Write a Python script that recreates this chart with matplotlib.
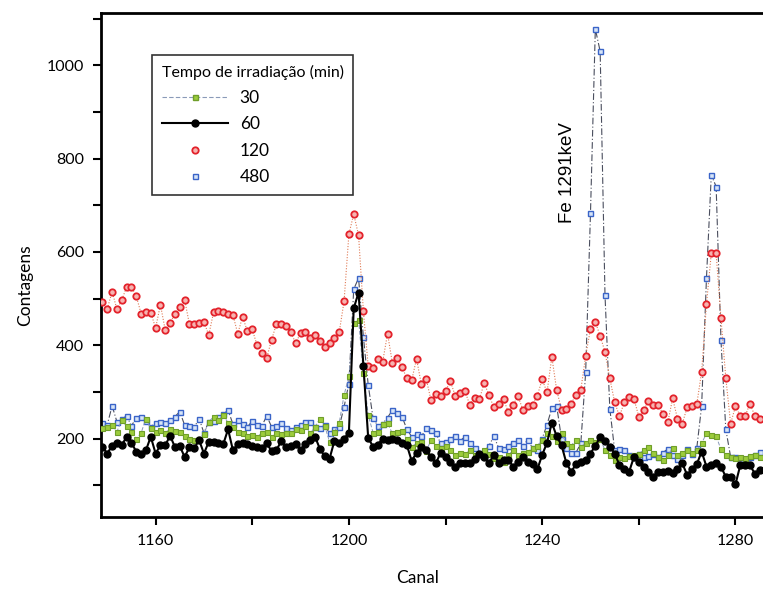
import matplotlib
matplotlib.use("Agg")
import matplotlib.pyplot as plt
from matplotlib.lines import Line2D
from matplotlib.ticker import MultipleLocator
import numpy as np

plt.rcParams['font.family'] = ['Lato', 'DejaVu Sans']

# ---------------- data (counts per channel) ----------------
start_30 = 1149
counts_30 = [223, 225, 229, 215, 240, 226, 215, 200, 212, 243, 222, 215, 218, 213, 220, 216, 215, 205, 200, 197,
             200, 210, 236, 247, 240, 250, 234, 225, 215, 211, 205, 208, 204, 212, 215, 204, 211, 210, 212, 212,
             220, 218, 227, 211, 225, 243, 227, 193, 215, 234, 293, 334, 447, 455, 340, 250, 213, 215, 231, 233,
             211, 215, 217, 200, 183, 190, 193, 174, 196, 185, 179, 185, 175, 165, 170, 168, 175, 165, 170, 175,
             168, 158, 160, 150, 165, 175, 165, 170, 172, 179, 185, 197, 211, 205, 195, 211, 190, 185, 197, 183,
             190, 198, 192, 200, 175, 165, 154, 160, 158, 163, 165, 168, 175, 183, 170, 160, 154, 165, 179, 165,
             170, 175, 170, 175, 190, 211, 208, 205, 177, 165, 161, 158, 160, 158, 162, 165, 160]

start_60 = 1149
counts_60 = [182, 168, 185, 190, 186, 204, 191, 172, 166, 175, 204, 168, 186, 186, 206, 182, 184, 161, 181, 179,
             197, 168, 193, 193, 190, 188, 220, 175, 188, 191, 188, 185, 182, 179, 190, 173, 175, 195, 182, 185,
             188, 175, 188, 197, 204, 178, 162, 157, 195, 190, 200, 212, 479, 513, 356, 201, 183, 187, 200, 198,
             200, 198, 190, 186, 152, 170, 181, 175, 161, 147, 170, 160, 150, 139, 148, 147, 148, 156, 168, 160,
             148, 165, 148, 154, 154, 140, 150, 160, 150, 145, 134, 165, 191, 234, 205, 186, 148, 129, 145, 150,
             154, 168, 185, 203, 195, 183, 168, 143, 135, 129, 161, 150, 140, 128, 118, 129, 129, 130, 127, 135,
             147, 122, 135, 145, 172, 140, 143, 148, 140, 118, 118, 102, 143, 143, 143, 125, 133]

start_120 = 1149
counts_120 = [492, 478, 515, 477, 497, 525, 525, 505, 468, 472, 470, 437, 487, 432, 448, 467, 482, 498, 445, 445,
              448, 450, 422, 471, 473, 471, 467, 465, 425, 461, 430, 434, 400, 384, 373, 412, 445, 445, 441, 428,
              404, 427, 428, 415, 423, 410, 396, 405, 416, 428, 494, 638, 681, 636, 473, 355, 352, 371, 365, 425,
              362, 373, 353, 329, 325, 371, 316, 328, 282, 296, 291, 302, 323, 292, 298, 302, 273, 287, 284, 319,
              293, 267, 274, 284, 257, 273, 291, 262, 269, 273, 292, 327, 299, 375, 304, 262, 264, 275, 294, 305,
              377, 435, 450, 420, 386, 329, 278, 248, 278, 289, 285, 247, 261, 280, 273, 272, 253, 235, 286, 243,
              232, 267, 269, 274, 343, 488, 597, 597, 458, 330, 232, 269, 249, 248, 275, 249, 241]

start_480 = 1149
counts_480 = [233, 230, 270, 236, 241, 249, 227, 245, 247, 238, 225, 234, 236, 233, 240, 247, 258, 229, 227, 224,
              243, 212, 236, 238, 247, 252, 261, 231, 240, 232, 225, 238, 230, 227, 249, 225, 228, 233, 222, 218,
              225, 229, 236, 236, 225, 222, 229, 211, 220, 225, 268, 318, 520, 544, 418, 315, 244, 227, 232, 245,
              261, 254, 247, 220, 204, 209, 205, 222, 218, 211, 190, 193, 200, 205, 195, 204, 190, 180, 168, 172,
              185, 205, 180, 178, 185, 190, 197, 185, 197, 180, 175, 200, 230, 265, 270, 200, 180, 170, 170, 190,
              342, 684, 1078, 1030, 508, 264, 175, 178, 176, 165, 161, 167, 161, 163, 168, 160, 170, 178, 165, 157,
              165, 178, 167, 180, 270, 544, 765, 740, 411, 220, 161, 161, 157, 157, 161, 165, 172]

series_labels = ['30', '60', '120', '480']
legend_title = 'Tempo de irradiação (min)'
x_label = 'Canal'
y_label = 'Contagens'
annotation = 'Fe 1291keV'
annotation_x = 1245.2
annotation_y = 770

x_ticks = [1160, 1200, 1240, 1280]
y_ticks = [200, 400, 600, 800, 1000]

ch30 = np.arange(start_30, start_30 + len(counts_30))
ch60 = np.arange(start_60, start_60 + len(counts_60))
ch120 = np.arange(start_120, start_120 + len(counts_120))
ch480 = np.arange(start_480, start_480 + len(counts_480))

# ---------------- figure ----------------
W, H = 763, 589
fig = plt.figure(figsize=(W / 100, H / 100), dpi=100)
ax = fig.add_axes([101 / W, 1 - 517 / H, (W - 101) / W, 504 / H])

red_e = '#e3222b'
red_f = '#f6b3b0'
blue_e = '#3a64c8'
blue_f = '#d6e4f7'
green_f = '#9ccc3c'
green_e = '#6f9e2a'

ax.plot(ch480, counts_480, ls=(0, (6, 2, 1, 2)), color='#4a4e5e', lw=0.8, marker='s', ms=3.6,
        mfc=blue_f, mec=blue_e, mew=1.0, zorder=2)
ax.plot(ch30, counts_30, ls=(0, (4, 2)), color='#8a9ab8', lw=0.7, marker='s', ms=3.6,
        mfc=green_f, mec=green_e, mew=0.8, zorder=3)
ax.plot(ch120, counts_120, ls=(0, (1, 1.5)), color='#e07a55', lw=0.8, marker='o', ms=4.6,
        mfc=red_f, mec=red_e, mew=1.3, zorder=4)
ax.plot(ch60, counts_60, ls='-', color='black', lw=1.5, marker='o', ms=5.0,
        mfc='black', mec='black', zorder=5)

ax.set_xlim(1148.7, 1285.7)
ax.set_ylim(32, 1112)
ax.set_xticks(x_ticks)
ax.set_yticks(y_ticks)
ax.xaxis.set_minor_locator(MultipleLocator(20))
ax.yaxis.set_minor_locator(MultipleLocator(100))
ax.tick_params(axis='both', which='both', direction='out', width=1.5, length=6,
               top=False, right=False, labelsize=11.5, pad=6)
for s in ['left', 'bottom', 'top']:
    ax.spines[s].set_linewidth(2.0)
ax.spines['right'].set_visible(False)

fig.text(418 / W, 1 - 578 / H, x_label, ha='center', va='center', fontsize=12.5)
fig.text(25 / W, 1 - 285 / H, y_label, ha='center', va='center', rotation=90, fontsize=12.5)

ax.text(annotation_x, annotation_y, annotation, rotation=90, ha='center', va='center',
        fontsize=13.5, family=['Liberation Sans', 'DejaVu Sans'])

handles = [
    Line2D([], [], ls=(0, (4, 2)), color='#8a9ab8', lw=0.8, marker='s', ms=3.6,
           mfc=green_f, mec=green_e),
    Line2D([], [], ls='-', color='black', lw=1.5, marker='o', ms=5, mfc='black', mec='black'),
    Line2D([], [], ls='none', marker='o', ms=4.6, mfc=red_f, mec=red_e, mew=1.3),
    Line2D([], [], ls='none', marker='s', ms=3.6, mfc=blue_f, mec=blue_e),
]
leg = ax.legend(handles, series_labels, title=legend_title, loc='upper left',
                bbox_to_anchor=((152 - 101) / 662, 1 - (55 - 13) / 504),
                fontsize=12.5, title_fontsize=11.5, frameon=True, fancybox=False,
                edgecolor='black', handlelength=3.8, borderpad=0.55, labelspacing=0.6,
                handletextpad=0.7, borderaxespad=0.0)
leg.get_frame().set_linewidth(1.2)
leg._legend_box.align = 'left'

fig.savefig('out.png', dpi=100)
